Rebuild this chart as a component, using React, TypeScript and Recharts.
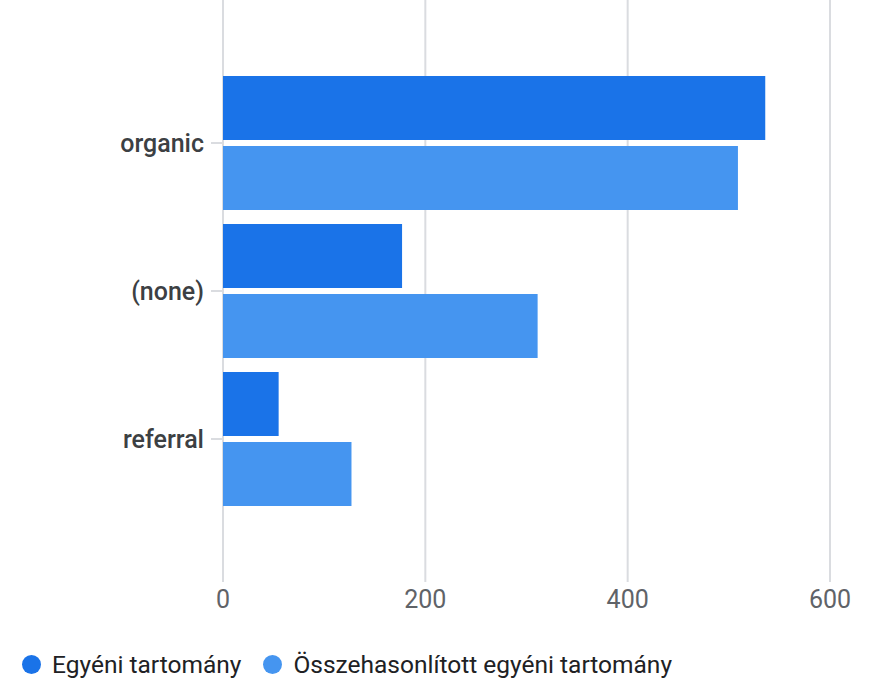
import React from "react";
import { BarChart, Bar, XAxis, YAxis, CartesianGrid, Legend } from "recharts";

const categories = ["organic", "(none)", "referral"];
const egyeni = [536, 177, 55];
const osszehasonlitott = [509, 311, 127];
const xTicks = [0, 200, 400, 600];
const seriesNames = ["Egyéni tartomány", "Összehasonlított egyéni tartomány"];
const colors = ["#1a73e8", "#4595f0"];

const data = categories.map((c, i) => ({
  name: c,
  a: egyeni[i],
  b: osszehasonlitott[i],
}));

const LegendContent = () => (
  <div
    style={{
      height: 58,
      boxSizing: "border-box",
      paddingTop: 27,
      paddingLeft: 22,
      display: "flex",
      alignItems: "center",
      fontFamily: "Roboto",
      fontSize: 24.5,
      lineHeight: "28px",
      color: "#202124",
    }}
  >
    {seriesNames.map((n, i) => (
      <div key={n} style={{ display: "flex", alignItems: "center", marginRight: 22 }}>
        <span
          style={{
            width: 19,
            height: 19,
            borderRadius: "50%",
            background: colors[i],
            display: "inline-block",
            marginRight: 11,
          }}
        />
        <span>{n}</span>
      </div>
    ))}
  </div>
);

export default function App() {
  return (
    <div style={{ position: "absolute", top: 0, left: 0, width: 883, height: 680, background: "#fff" }}>
      <BarChart
        width={883}
        height={680}
        data={data}
        layout="vertical"
        margin={{ top: 0, right: 53, left: 0, bottom: 0 }}
        barSize={64}
        barGap={6}
        style={{ fontFamily: "Roboto" }}
      >
        <CartesianGrid horizontal={false} stroke="#dadce0" strokeWidth={2} />
        <XAxis
          type="number"
          domain={[0, 600]}
          ticks={xTicks}
          axisLine={false}
          tickLine={false}
          height={40}
          tick={{ fill: "#5f6368", fontSize: 25, fontFamily: "Roboto" }}
        />
        <YAxis
          type="category"
          dataKey="name"
          width={223}
          axisLine={false}
          tickSize={12}
          tickMargin={7}
          tickLine={{ stroke: "#dadce0", strokeWidth: 2 }}
          padding={{ top: 69, bottom: 69 }}
          tick={{ fill: "#3c4043", fontSize: 25, fontWeight: 500, fontFamily: "Roboto" }}
        />
        <Legend verticalAlign="bottom" align="left" content={<LegendContent />} />
        <Bar dataKey="a" name={seriesNames[0]} fill={colors[0]} isAnimationActive={false} />
        <Bar dataKey="b" name={seriesNames[1]} fill={colors[1]} isAnimationActive={false} />
      </BarChart>
    </div>
  );
}
